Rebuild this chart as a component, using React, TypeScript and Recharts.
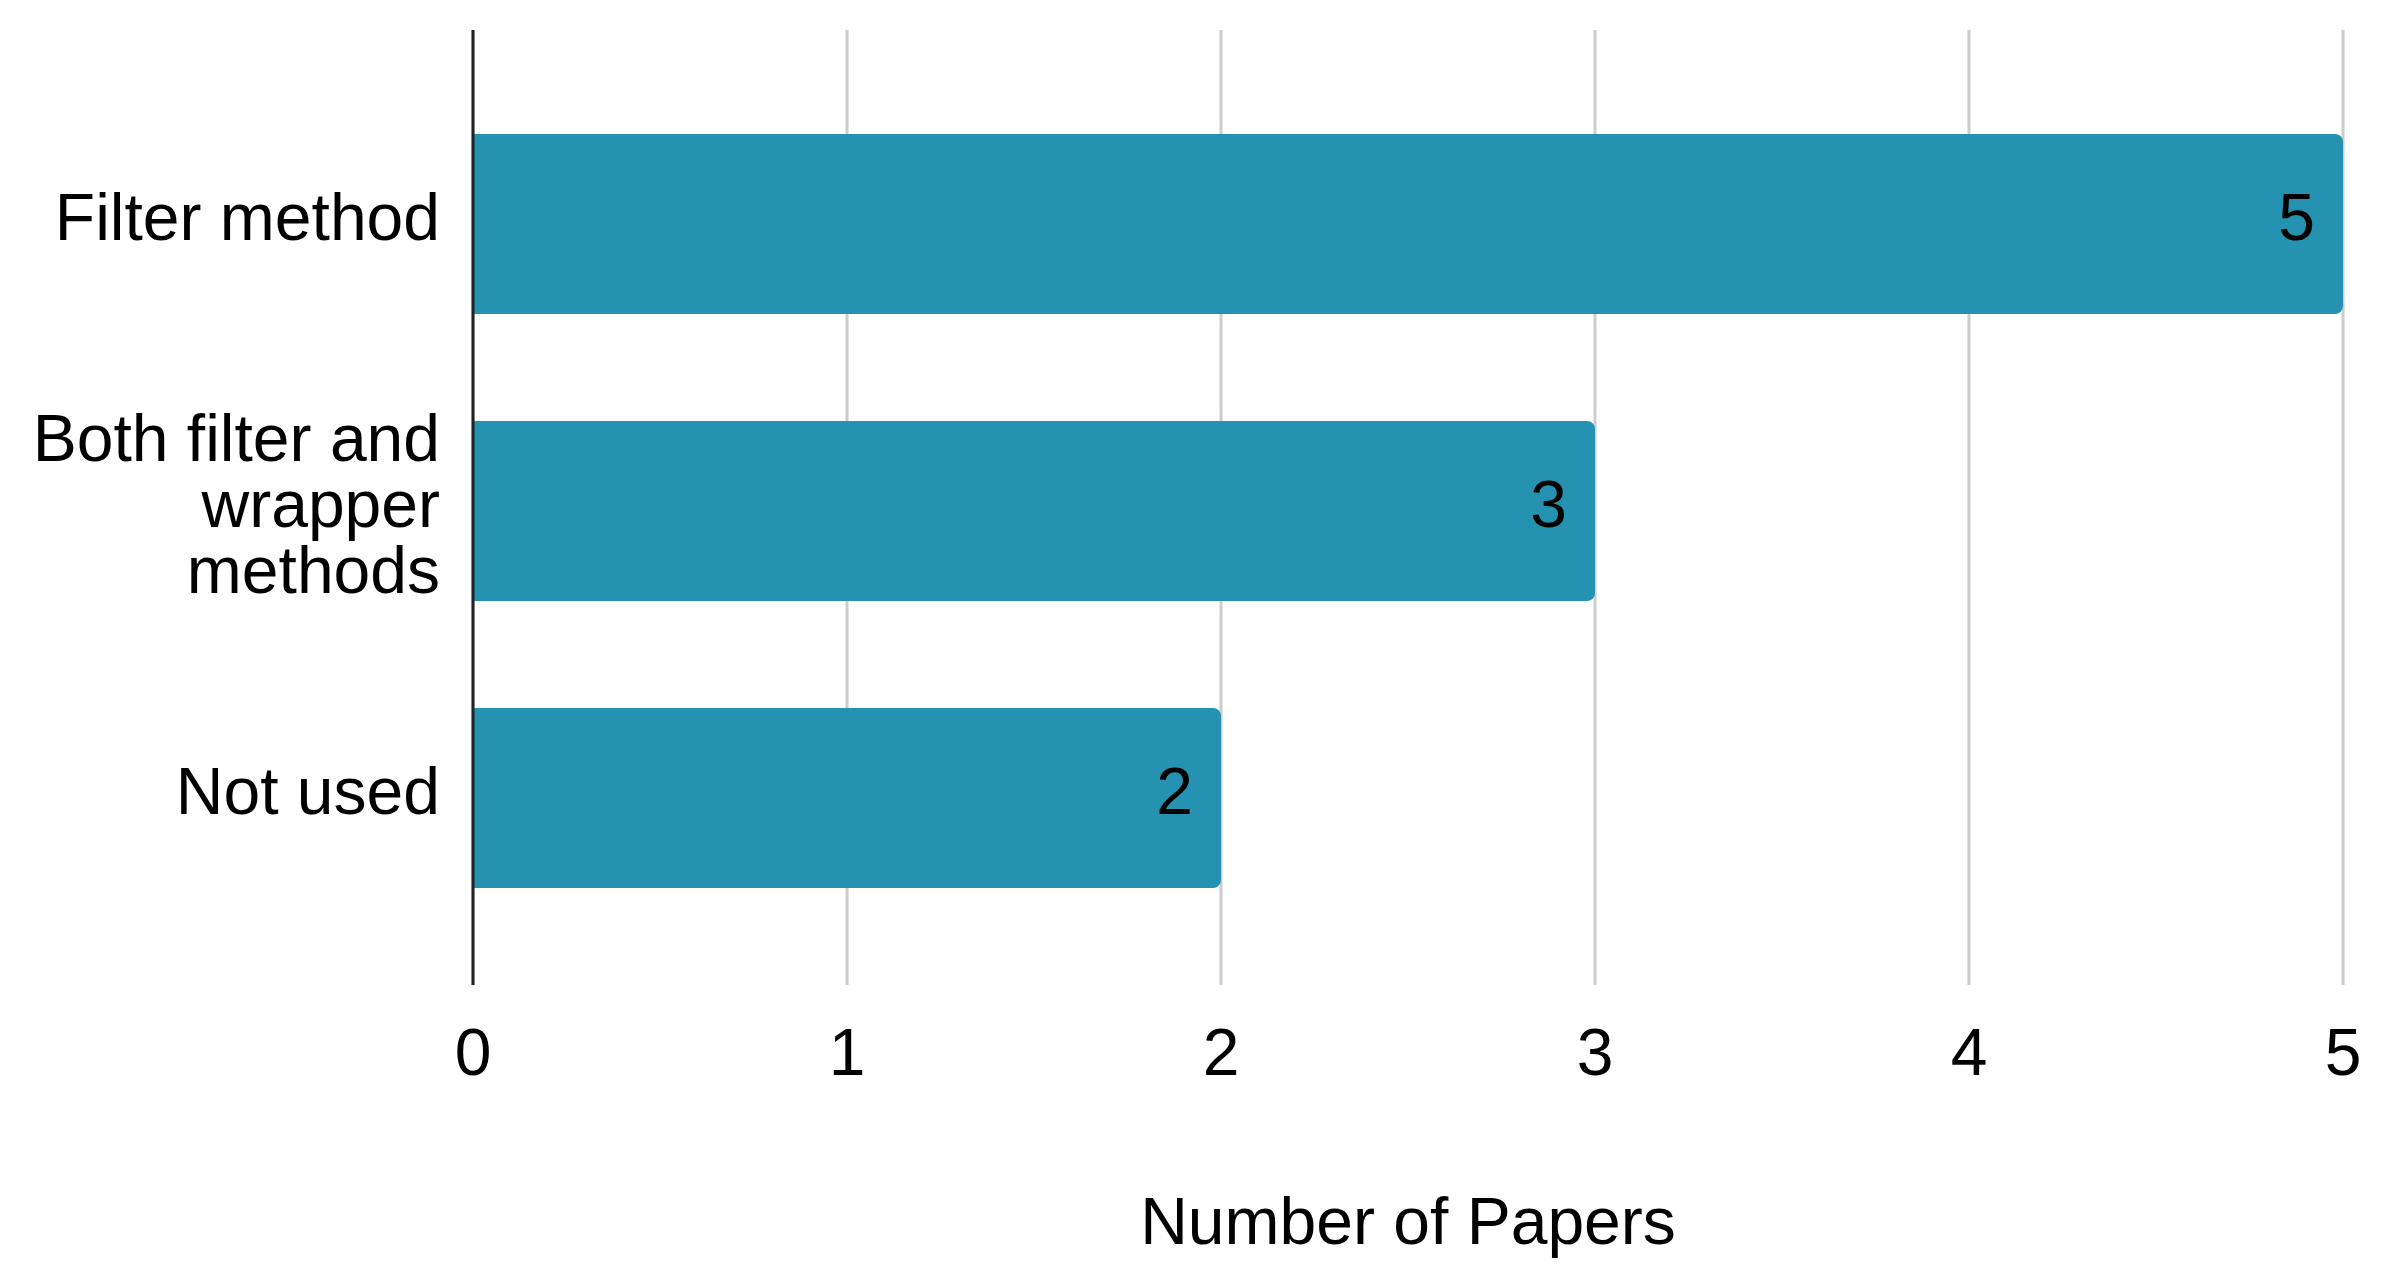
import React from 'react';
import {
  BarChart,
  Bar,
  XAxis,
  YAxis,
  CartesianGrid,
  LabelList,
} from 'recharts';

// line breaks mark where the reference wraps the category labels
const categories = ['Filter method', 'Both filter and\nwrapper\nmethods', 'Not used'];
const paperCounts = [5, 3, 2];
const xTicks = [0, 1, 2, 3, 4, 5];

const BAR_COLOR = '#2492B0';
const FONT = '"Liberation Sans", Arial, sans-serif';
const FONT_SIZE = 66;

const data = categories.map((name, i) => ({ name, value: paperCounts[i] }));

// category labels, right aligned left of the axis, one tspan per line
const CategoryTick = ({ x, y, payload }: any) => {
  const lines = String(payload.value).split('\n');
  const lineHeight = FONT_SIZE;
  const firstBaseline = y - 7 - ((lines.length - 1) / 2) * lineHeight + FONT_SIZE * 0.355;
  return (
    <text
      x={x}
      y={firstBaseline}
      textAnchor="end"
      fontSize={FONT_SIZE}
      fill="#000"
      fontFamily={FONT}
    >
      {lines.map((line, i) => (
        <tspan key={i} x={x} dy={i === 0 ? 0 : lineHeight}>
          {line}
        </tspan>
      ))}
    </text>
  );
};

export default function App() {
  return (
    <div
      style={{
        position: 'absolute',
        left: 0,
        top: 0,
        background: '#fff',
        fontFamily: FONT,
      }}
    >
      <BarChart
        width={2392}
        height={1283}
        data={data}
        layout="vertical"
        margin={{ top: 30, right: 49, bottom: 0, left: 0 }}
      >
        <CartesianGrid horizontal={false} stroke="#cccccc" strokeWidth={3} />
        <XAxis
          type="number"
          domain={[0, 5]}
          ticks={xTicks}
          axisLine={false}
          tickLine={false}
          tickSize={0}
          tickMargin={43}
          height={298}
          tick={{ fontSize: FONT_SIZE, fill: '#000', fontFamily: FONT }}
          label={{
            value: 'Number of Papers',
            position: 'insideBottom',
            offset: 39,
            fontSize: FONT_SIZE,
            fill: '#000',
            fontFamily: FONT,
          }}
        />
        <YAxis
          type="category"
          dataKey="name"
          width={473}
          axisLine={{ stroke: '#222', strokeWidth: 3 }}
          tickLine={false}
          tickSize={0}
          tickMargin={33}
          padding={{ top: 50, bottom: 44 }}
          tick={<CategoryTick />}
          interval={0}
        />
        <Bar
          dataKey="value"
          fill={BAR_COLOR}
          barSize={180}
          radius={[0, 8, 8, 0]}
          isAnimationActive={false}
        >
          <LabelList
            dataKey="value"
            position="insideRight"
            offset={28}
            dy={-7}
            fontSize={FONT_SIZE}
            fill="#000"
            fontFamily={FONT}
          />
        </Bar>
      </BarChart>
    </div>
  );
}
